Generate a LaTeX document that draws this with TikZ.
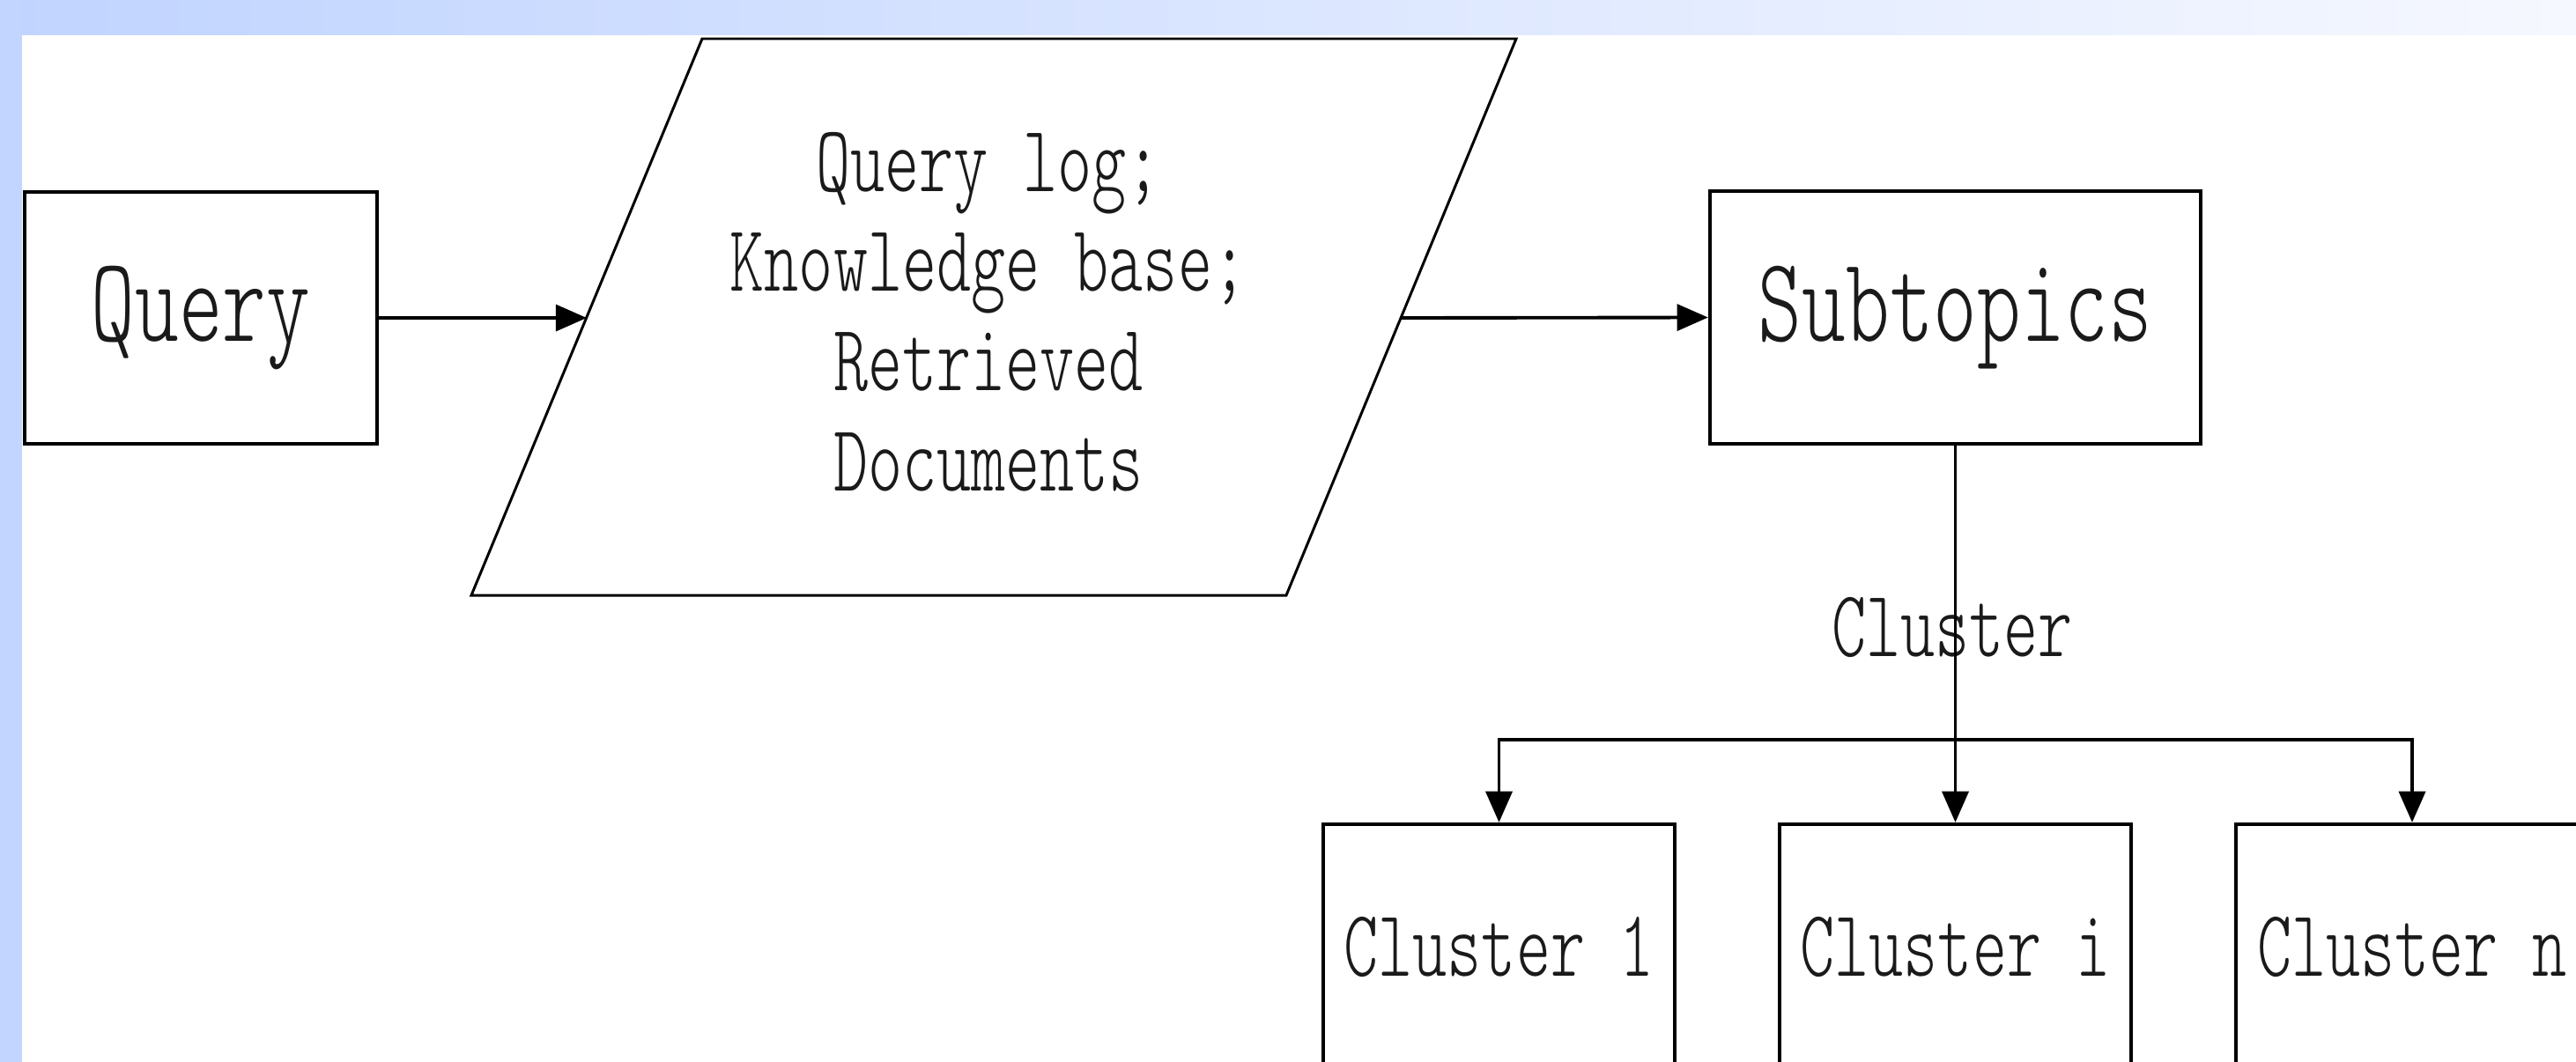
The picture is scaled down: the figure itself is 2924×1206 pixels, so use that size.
\documentclass[tikz,border=0pt]{standalone}
\usepackage{fontspec}
\usetikzlibrary{arrows.meta}
\newfontfamily\dfont{lmmonolt10-regular}[Extension=.otf,FakeStretch=0.69]
\definecolor{bandL}{HTML}{C0D4FF}
\definecolor{bandR}{HTML}{F6F8FF}
\definecolor{sideband}{HTML}{C2D5FF}
\definecolor{ink}{HTML}{1A1A1A}
\tikzset{
  boxnode/.style={draw=black, line width=1.15pt, rectangle, inner sep=0pt, text=ink},
  bigtext/.style={font=\dfont\fontsize{39}{47}\selectfont},
  smalltext/.style={font=\dfont\fontsize{30.7}{32.2}\selectfont, text=ink},
  conn/.style={line width=1.1pt, draw=black},
  arr/.style={conn, -{Triangle[length=10pt,width=8.5pt]}},
}
\begin{document}
\begin{tikzpicture}[x=0.01cm, y=-0.01cm]
\useasboundingbox (0,0) rectangle (2924,1206);
\fill[white] (0,0) rectangle (2924,1206);
% background bands
\shade[left color=bandL, right color=bandR] (0,0) rectangle (2924,39);
\fill[sideband] (0,0) rectangle (25,1206);

% Query box
\node[boxnode, bigtext, minimum width=4cm, minimum height=2.86cm] (query) at (228,361) {Query};

% parallelogram
\draw[line width=0.85pt] (797,44) -- (1721,44) -- (1460,676) -- (535,676) -- cycle;
\node[smalltext, align=center, inner sep=0pt] (sources) at (1122,354)
  {Query log;\\Knowledge base;\\Retrieved\\Documents};
\coordinate (pin) at (666,361);
\coordinate (pout) at (1590,361);

% Subtopics box
\node[boxnode, bigtext, minimum width=5.57cm, minimum height=2.87cm] (subtopics) at (2219.5,360.5) {Subtopics};

% Cluster label
\node[smalltext, inner sep=0pt] (clusterlbl) at (2216,713) {Cluster};

% Cluster boxes
\node[boxnode, smalltext, minimum width=3.99cm, minimum height=2.80cm] (c1) at (1701.5,1076) {Cluster 1};
\node[boxnode, smalltext, minimum width=3.99cm, minimum height=2.80cm] (c2) at (2219.5,1076) {Cluster i};
\node[boxnode, smalltext, minimum width=3.99cm, minimum height=2.80cm] (c3) at (2738,1076) {Cluster n};

\coordinate (bar) at (2219.5,840);

% connectors
\draw[arr] (query.east) -- (pin);
\draw[arr] (pout) -- (subtopics.west);
\draw[arr] (subtopics.south) -- (c2.north);
\draw[conn, {Triangle[length=10pt,width=8.5pt]}-{Triangle[length=10pt,width=8.5pt]}]
  (c1.north) |- (bar) -| (c3.north);
\end{tikzpicture}
\end{document}
